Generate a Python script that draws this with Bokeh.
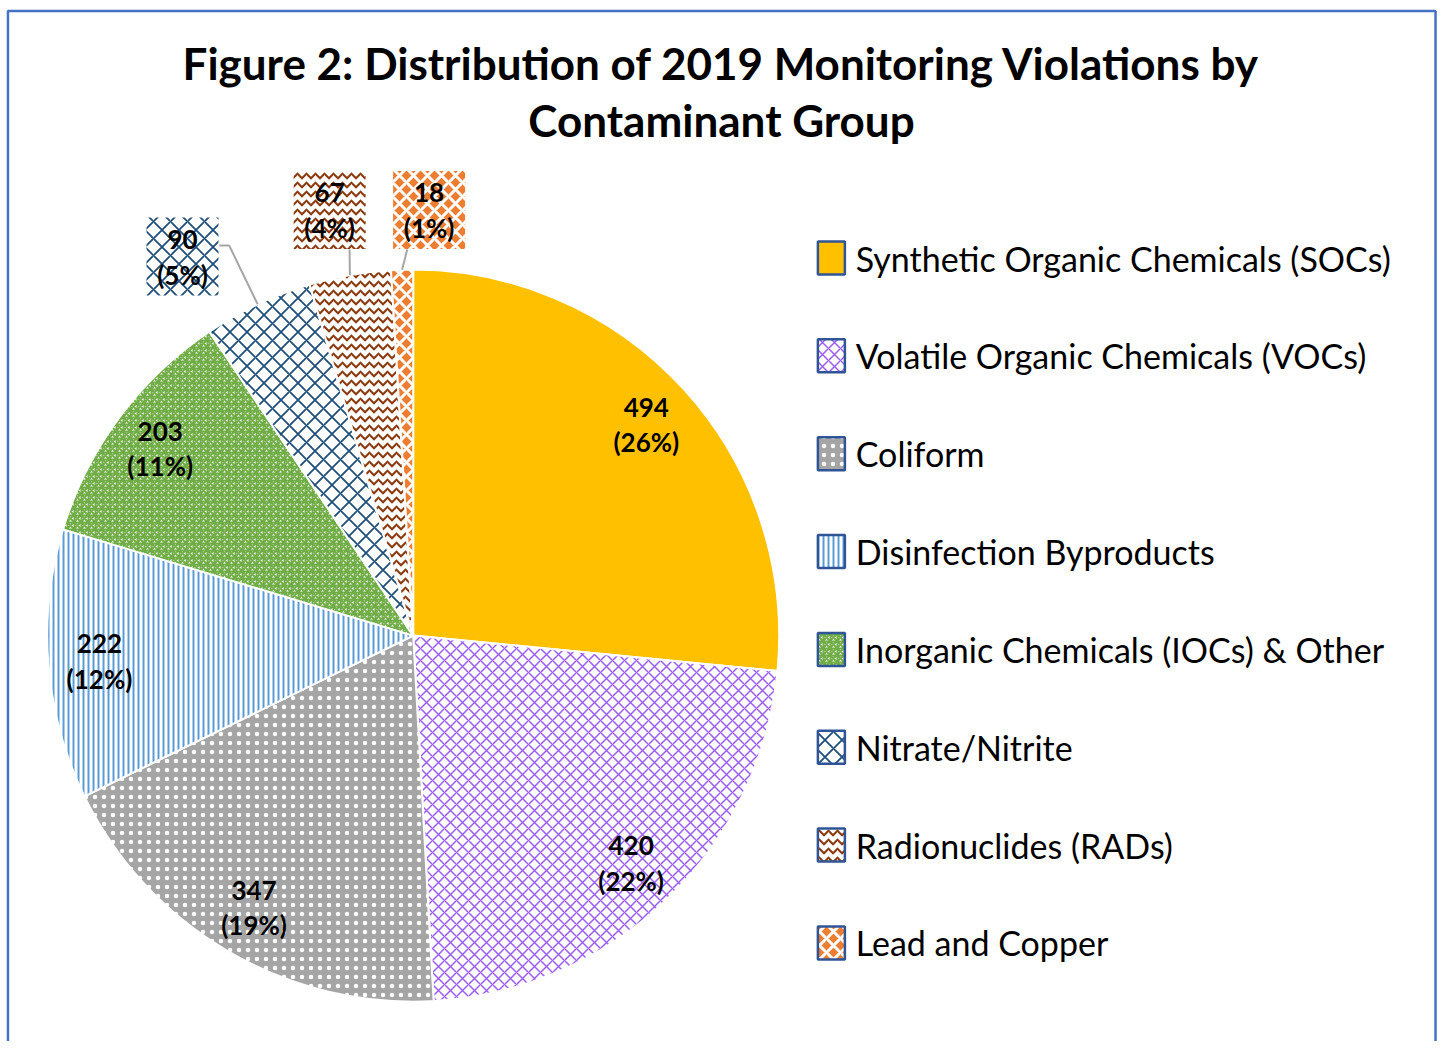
import math
from bokeh.plotting import figure
from bokeh.models import Range1d
from bokeh.embed import file_html
from bokeh.resources import INLINE
from bokeh.core.properties import value

# ---------------- data ----------------
categories = [
    "Synthetic Organic Chemicals (SOCs)",
    "Volatile Organic Chemicals (VOCs)",
    "Coliform",
    "Disinfection Byproducts",
    "Inorganic Chemicals (IOCs) & Other",
    "Nitrate/Nitrite",
    "Radionuclides (RADs)",
    "Lead and Copper",
]
counts = [494, 420, 347, 222, 203, 90, 67, 18]
pct_labels = ["26%", "22%", "19%", "12%", "11%", "5%", "4%", "1%"]
title_lines = ["Figure 2: Distribution of 2019 Monitoring Violations by", "Contaminant Group"]

# ---------------- styles ----------------
fills = ["#FFC000", "white", "#A5A5A5", "white", "white", "white", "white", "#ED7D31"]
hatches = [None, "diagonal_cross", "dot", "vertical_line", "criss_cross",
           "diagonal_cross", "horizontal_wave", "diagonal_cross"]
hatch_colors = [None, "#9B5DF2", "white", "#5B9BD5", "#70AD47", "#1F4E79", "#8B3A0E", "white"]
hatch_scales = [12, 12, 9, 5, 7, 17, 9, 14]
hatch_weights = [1, 1.5, 1, 2, 2, 1.8, 2, 3]

FONT = "Lato"
W, H = 1440, 1041
SX, SY = W / 1448, H / 1049


def X(px):
    return px * SX


def Y(py):
    return H - py * SY


def style(i):
    d = dict(fill_color=fills[i])
    if hatches[i]:
        d.update(hatch_pattern=hatches[i], hatch_color=hatch_colors[i],
                 hatch_scale=hatch_scales[i], hatch_weight=hatch_weights[i])
    return d


p = figure(width=W, height=H, x_range=Range1d(0, W), y_range=Range1d(0, H),
           output_backend="svg", toolbar_location=None, min_border=0,
           x_axis_location=None, y_axis_location=None, outline_line_color=None)
p.grid.visible = False
p.background_fill_color = "white"

# chart border
p.quad(left=[X(7.5)], right=[X(1443)], top=[Y(10.5)], bottom=[Y(1070)],
       fill_color=None, line_color="#4472C4", line_width=2.5)

# title
for k, t in enumerate(title_lines):
    p.text(x=[X(725)], y=[Y(63 + 57 * k)], text=[t], text_align="center",
           text_baseline="middle", text_font=value(FONT), text_font_style="bold",
           text_font_size="44px", text_color="black")

# pie
cx, cy, R = X(415), Y(640), 366
total = sum(counts)
outside = {5: (183, 258), 6: (331, 211), 7: (431, 211)}
leader_start = {5: [(220, 247), (230, 247)], 6: [(351, 251)], 7: [(409, 251)]}
box_w, box_h = 72, 78

cum = 0
for i, v in enumerate(counts):
    a_end = math.pi / 2 - 2 * math.pi * cum / total
    a_start = math.pi / 2 - 2 * math.pi * (cum + v) / total
    p.wedge(x=[cx], y=[cy], radius=R, start_angle=a_start, end_angle=a_end,
            line_color="white", line_width=2, **style(i))
    mid = math.pi / 2 - 2 * math.pi * (cum + v / 2) / total
    if i in outside:
        bx, by = outside[i]
        p.rect(x=[X(bx)], y=[Y(by)], width=box_w, height=box_h, line_color=None, **style(i))
        pts = leader_start[i]
        ex, ey = cx + R * math.cos(mid), cy + R * math.sin(mid)
        p.line(x=[X(a) for a, b in pts] + [ex], y=[Y(b) for a, b in pts] + [ey],
               line_color="#A6A6A6", line_width=2)
        lx, ly = X(bx), Y(by)
    else:
        lx, ly = cx + 0.86 * R * math.cos(mid), cy + 0.86 * R * math.sin(mid)
    p.text(x=[lx], y=[ly], text=[str(v)], y_offset=-17, text_align="center",
           text_baseline="middle", text_font=value(FONT), text_font_style="bold",
           text_font_size="26px", text_color="black")
    p.text(x=[lx], y=[ly], text=["(" + pct_labels[i] + ")"], y_offset=18, text_align="center",
           text_baseline="middle", text_font=value(FONT), text_font_style="bold",
           text_font_size="26px", text_color="black")
    cum += v

# legend
for i, name in enumerate(categories):
    ly = 259.5 + i * 98.6
    p.rect(x=[X(835.5)], y=[Y(ly)], width=27, height=33, line_color="#2F5597",
           line_width=2.5, **style(i))
    p.text(x=[X(860)], y=[Y(ly)], text=[name], text_align="left", text_baseline="middle",
           text_font=value(FONT), text_font_size="34px", text_color="black")

open("out.html", "w").write(file_html(p, INLINE))
